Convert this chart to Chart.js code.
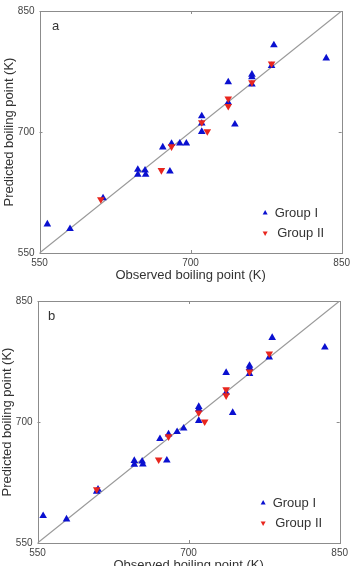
<!DOCTYPE html>
<html>
<head>
<meta charset="utf-8">
<script src="https://cdn.jsdelivr.net/npm/chart.js@4.4.1/dist/chart.umd.min.js"></script>
<style>
html,body{margin:0;padding:0;background:#fff;overflow:hidden;width:354px;height:566px;}
.wrap{position:absolute;width:354px;height:290px;}
</style>
</head>
<body>
<div class="wrap" style="left:0;top:0;"><canvas id="ca"></canvas></div>
<div class="wrap" style="left:-2px;top:290px;"><canvas id="cb"></canvas></div>
<script>
// ---- Data ----
const axisTicks = [550, 700, 850];
const seriesNames = ["Group I", "Group II"];
const panelNames = ["a", "b"];
const xTitle = "Observed boiling point (K)";
const yTitle = "Predicted boiling point (K)";

// Panel a
const obsA1 = [557.8,580.3,613.1,647.6,647.6,654.8,655.4,679.5,672.4,681.1,689.3,695.8,711.1,711.1,711.1,744.0,737.4,737.4,760.9,760.9,760.9,782.7,780.4,834.7];
const predA1 = [585.7,579.9,618.0,653.3,647.1,652.5,647.1,651.2,681.1,685.7,686.0,686.0,719.7,710.7,700.4,709.4,761.9,736.5,771.3,768.0,759.0,807.8,782.0,791.4];
const obsA2 = [610.9,671.0,681.1,711.1,716.6,737.4,737.4,760.9,780.4];
const predA2 = [616.4,652.5,682.0,711.9,700.8,741.4,732.0,761.5,784.8];

// Panel b
const obsB1 = [555.6,578.8,610.1,608.8,646.1,646.1,653.9,654.6,678.4,671.6,680.1,688.6,695.1,710.1,710.1,710.1,743.8,737.3,737.3,760.5,760.5,760.5,783.0,780.1,835.3];
const predB1 = [583.6,579.5,616.4,613.9,652.0,647.1,651.2,647.5,652.5,679.1,684.8,687.7,692.2,718.9,715.6,701.6,711.5,761.1,736.5,770.0,767.2,759.8,804.5,780.3,792.6];
const obsB2 = [608.8,670.3,680.1,710.1,716.0,737.3,737.3,760.5,780.1];
const predB2 = [616.4,653.3,682.0,711.5,700.4,740.2,732.8,762.3,784.8];

const BLUE = '#0a10d0';
const RED = '#e8261e';
const FONT = "'Liberation Sans', Arial, sans-serif";

function pts(xs, ys){ return xs.map((x,i)=>({x:x, y:ys[i]})); }

const framePlugin = {
  id:'frame',
  beforeDatasetsDraw(chart){
    const {ctx, chartArea:a, scales} = chart;
    ctx.save();
    ctx.strokeStyle = '#8c8c8c';
    ctx.lineWidth = 1;
    ctx.strokeRect(Math.round(a.left)+0.5, Math.round(a.top)+0.5, Math.round(a.right-a.left), Math.round(a.bottom-a.top));
    const t = 3;
    axisTicks.forEach(v=>{
      const px = Math.round(scales.x.getPixelForValue(v))+0.5;
      const py = Math.round(scales.y.getPixelForValue(v))+0.5;
      ctx.beginPath();
      ctx.moveTo(px, a.bottom); ctx.lineTo(px, a.bottom - t);
      ctx.moveTo(px, a.top); ctx.lineTo(px, a.top + t);
      ctx.moveTo(a.left, py); ctx.lineTo(a.left + t, py);
      ctx.moveTo(a.right, py); ctx.lineTo(a.right - t, py);
      ctx.stroke();
    });
    ctx.restore();
  },
  afterDatasetsDraw(chart){
    const {ctx, chartArea:a} = chart;
    const o = chart.options.plugins.frame;
    ctx.save();
    // panel letter
    ctx.fillStyle = '#333';
    ctx.font = '13px ' + FONT;
    ctx.textBaseline = 'middle';
    ctx.textAlign = 'left';
    ctx.fillText(o.letter, a.left + o.lx, a.top + o.ly);
    // legend, in series order
    const items = chart.data.datasets.filter(d=>d.inLegend)
      .sort((p,q)=>seriesNames.indexOf(p.label)-seriesNames.indexOf(q.label));
    items.forEach((d,i)=>{
      const cx = a.right - 76.5;
      const cy = a.bottom - 40 + i*20;
      const r = 2.9;
      ctx.save();
      ctx.translate(cx, cy);
      if (d.pointRotation) ctx.rotate(Math.PI);
      ctx.beginPath();
      ctx.moveTo(0, -r);
      ctx.lineTo(r*0.866, r*0.5);
      ctx.lineTo(-r*0.866, r*0.5);
      ctx.closePath();
      ctx.fillStyle = d.backgroundColor;
      ctx.fill();
      ctx.restore();
      ctx.fillStyle = '#333';
      ctx.font = '13px ' + FONT;
      ctx.fillText(d.label, a.right - 67 + i*2.5, cy);
    });
    ctx.restore();
  }
};

function makeChart(id, g1x, g1y, g2x, g2y, letter, lx, ly){
  new Chart(document.getElementById(id), {
    type:'scatter',
    data:{
      datasets:[
        {label:seriesNames[1], data:pts(g2x,g2y), pointStyle:'triangle', pointRotation:180, pointRadius:4.4, pointHoverRadius:4.4,
         backgroundColor:RED, borderColor:RED, borderWidth:0, order:1, inLegend:true},
        {label:seriesNames[0], data:pts(g1x,g1y), pointStyle:'triangle', pointRadius:4.4, pointHoverRadius:4.4,
         backgroundColor:BLUE, borderColor:BLUE, borderWidth:0, order:2, inLegend:true},
        {label:'y = x', data:[{x:axisTicks[0],y:axisTicks[0]},{x:axisTicks[2],y:axisTicks[2]}], showLine:true,
         pointRadius:0, borderColor:'#9a9a9a', borderWidth:1.2, order:3, inLegend:false}
      ]
    },
    options:{
      responsive:true, maintainAspectRatio:false, animation:false,
      events:[],
      layout:{padding:{left:0,right:7.5,top:9.5,bottom:0}},
      plugins:{legend:{display:false}, tooltip:{enabled:false},
        frame:{letter:letter, lx:lx, ly:ly}},
      scales:{
        x:{type:'linear', min:axisTicks[0], max:axisTicks[2],
           afterBuildTicks(s){ s.ticks = axisTicks.map(v=>({value:v})); },
           afterFit(s){ s.height = 37; },
           grid:{display:false, drawTicks:false}, border:{display:false},
           ticks:{padding:4, color:'#444', font:{family:FONT, size:10}, maxRotation:0, autoSkip:false},
           title:{display:true, text:xTitle, color:'#333', font:{family:FONT, size:13}, padding:{top:0,bottom:7}}},
        y:{type:'linear', min:axisTicks[0], max:axisTicks[2],
           afterBuildTicks(s){ s.ticks = axisTicks.map(v=>({value:v})); },
           afterFit(s){ s.width = 39.5; },
           grid:{display:false, drawTicks:false}, border:{display:false},
           ticks:{padding:5, color:'#444', font:{family:FONT, size:10}, autoSkip:false},
           title:{display:true, text:yTitle, color:'#333', font:{family:FONT, size:13}, padding:{top:2,bottom:0}}}
      }
    },
    plugins:[framePlugin]
  });
}

makeChart('ca', obsA1, predA1, obsA2, predA2, panelNames[0], 12.5, 15.5);
makeChart('cb', obsB1, predB1, obsB2, predB2, panelNames[1], 10.5, 15.5);
</script>
</body>
</html>
